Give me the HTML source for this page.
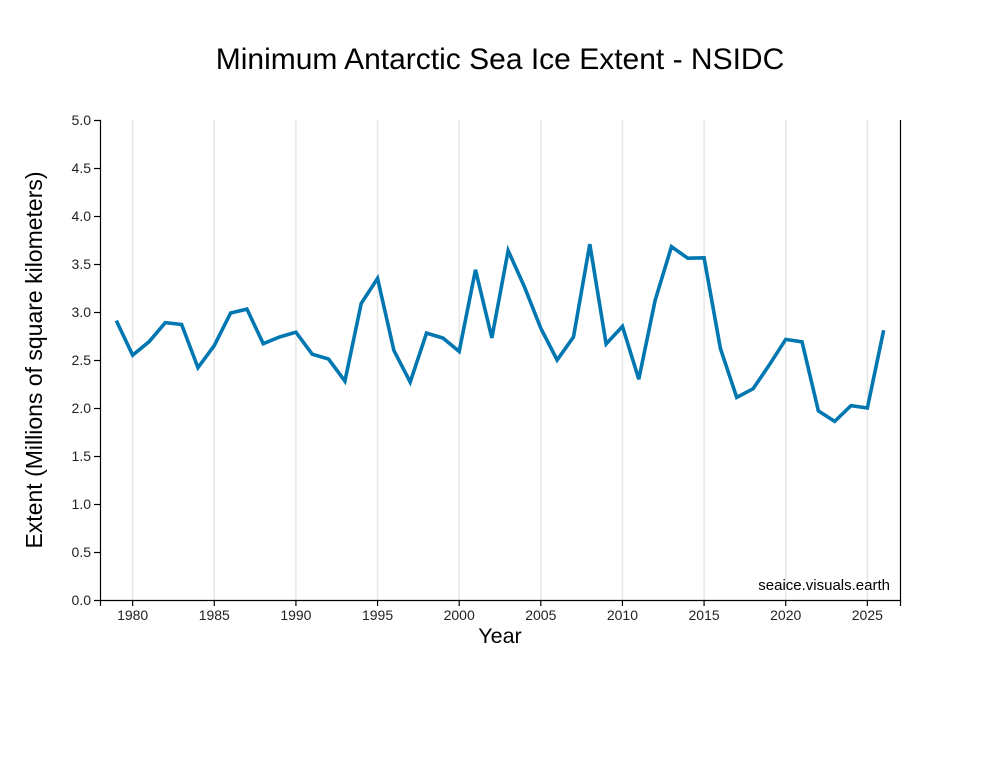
<!DOCTYPE html>
<html>
<head>
<meta charset="utf-8">
<style>
  html, body { margin: 0; padding: 0; background: #fff; }
  svg { display: block; font-family: "Liberation Sans", Arial, sans-serif; }
</style>
</head>
<body>
<svg width="1000" height="780" viewBox="0 0 1000 780" xmlns="http://www.w3.org/2000/svg">
  <rect width="1000" height="780" fill="#fff"/>
  <text x="500" y="69" text-anchor="middle" font-size="30" fill="#000">Minimum Antarctic Sea Ice Extent - NSIDC</text>

  <!-- vertical grid lines -->
  <g stroke="#e6e6e6" stroke-width="1.5">
    <line x1="132.65" y1="120" x2="132.65" y2="600"/>
    <line x1="214.29" y1="120" x2="214.29" y2="600"/>
    <line x1="295.92" y1="120" x2="295.92" y2="600"/>
    <line x1="377.55" y1="120" x2="377.55" y2="600"/>
    <line x1="459.18" y1="120" x2="459.18" y2="600"/>
    <line x1="540.82" y1="120" x2="540.82" y2="600"/>
    <line x1="622.45" y1="120" x2="622.45" y2="600"/>
    <line x1="704.08" y1="120" x2="704.08" y2="600"/>
    <line x1="785.71" y1="120" x2="785.71" y2="600"/>
    <line x1="867.35" y1="120" x2="867.35" y2="600"/>
  </g>

  <!-- axes -->
  <g stroke="#000" stroke-width="1.2" fill="none">
    <path d="M94,120.5 H100.5 V600.5 H94"/>
    <path d="M100.5,606 V600.5 H900.5 V606"/>
    <line x1="900.5" y1="120" x2="900.5" y2="600.5"/>
    <!-- y ticks -->
    <line x1="94" y1="168.5" x2="100" y2="168.5"/>
    <line x1="94" y1="216.5" x2="100" y2="216.5"/>
    <line x1="94" y1="264.5" x2="100" y2="264.5"/>
    <line x1="94" y1="312.5" x2="100" y2="312.5"/>
    <line x1="94" y1="360.5" x2="100" y2="360.5"/>
    <line x1="94" y1="408.5" x2="100" y2="408.5"/>
    <line x1="94" y1="456.5" x2="100" y2="456.5"/>
    <line x1="94" y1="504.5" x2="100" y2="504.5"/>
    <line x1="94" y1="552.5" x2="100" y2="552.5"/>
    <!-- x ticks -->
    <line x1="132.65" y1="600" x2="132.65" y2="606"/>
    <line x1="214.29" y1="600" x2="214.29" y2="606"/>
    <line x1="295.92" y1="600" x2="295.92" y2="606"/>
    <line x1="377.55" y1="600" x2="377.55" y2="606"/>
    <line x1="459.18" y1="600" x2="459.18" y2="606"/>
    <line x1="540.82" y1="600" x2="540.82" y2="606"/>
    <line x1="622.45" y1="600" x2="622.45" y2="606"/>
    <line x1="704.08" y1="600" x2="704.08" y2="606"/>
    <line x1="785.71" y1="600" x2="785.71" y2="606"/>
    <line x1="867.35" y1="600" x2="867.35" y2="606"/>
  </g>

  <!-- y tick labels -->
  <g font-size="14" fill="#222" text-anchor="end">
    <text x="91" y="125">5.0</text>
    <text x="91" y="173">4.5</text>
    <text x="91" y="221">4.0</text>
    <text x="91" y="269">3.5</text>
    <text x="91" y="317">3.0</text>
    <text x="91" y="365">2.5</text>
    <text x="91" y="413">2.0</text>
    <text x="91" y="461">1.5</text>
    <text x="91" y="509">1.0</text>
    <text x="91" y="557">0.5</text>
    <text x="91" y="605">0.0</text>
  </g>

  <!-- x tick labels -->
  <g font-size="14" fill="#222" text-anchor="middle">
    <text x="132.65" y="620">1980</text>
    <text x="214.29" y="620">1985</text>
    <text x="295.92" y="620">1990</text>
    <text x="377.55" y="620">1995</text>
    <text x="459.18" y="620">2000</text>
    <text x="540.82" y="620">2005</text>
    <text x="622.45" y="620">2010</text>
    <text x="704.08" y="620">2015</text>
    <text x="785.71" y="620">2020</text>
    <text x="867.35" y="620">2025</text>
  </g>

  <text x="500" y="643" text-anchor="middle" font-size="21.5" fill="#000">Year</text>
  <text transform="translate(42,360) rotate(-90)" text-anchor="middle" font-size="23" fill="#000">Extent (Millions of square kilometers)</text>

  <text x="890" y="590" text-anchor="end" font-size="15" fill="#000">seaice.visuals.earth</text>

  <polyline fill="none" stroke="#0077b0" stroke-width="3.6" stroke-linejoin="miter"
    points="116.33,320.6 132.65,355.2 148.98,341.8 165.31,322.6 181.63,324.5 197.96,367.7 214.29,345.6 230.61,313 246.94,309.1 263.27,343.7 279.59,337 295.92,332.2 312.24,354.2 328.57,359 344.9,381.1 361.22,303.4 377.55,278.4 393.88,350.4 410.2,382.1 426.53,333.1 442.86,338 459.18,351.4 475.51,269.8 491.84,337.9 508.16,250.6 524.49,287 540.82,328.3 557.14,360 573.47,337 589.8,244.2 606.12,344 622.45,326.4 638.78,379.2 655.1,300.5 671.43,246.7 687.76,258.2 704.08,257.8 720.41,348.5 736.73,397.4 753.06,388.8 769.39,364.8 785.71,339.4 802.04,341.8 818.37,410.9 834.69,421.4 851.02,405.6 867.35,408 883.67,330.2"/>
</svg>
</body>
</html>
